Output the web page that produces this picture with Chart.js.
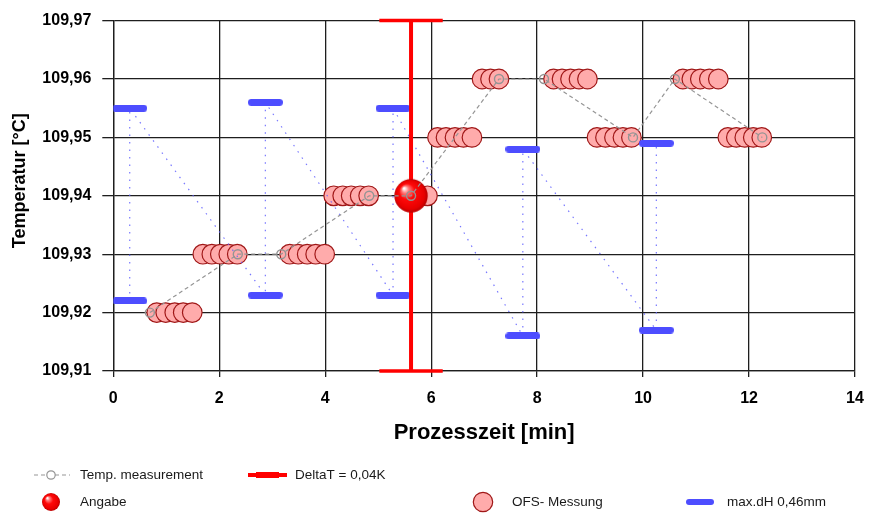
<!DOCTYPE html>
<html>
<head>
<meta charset="utf-8">
<script src="https://cdn.jsdelivr.net/npm/chart.js@4.4.1/dist/chart.umd.min.js"></script>
<style>
  html, body { margin: 0; padding: 0; background: #ffffff; }
  canvas { display: block; }
</style>
</head>
<body>
<canvas id="chart" width="883" height="526"></canvas>
<script>
// Axis ticks
const xTicks = [0, 2, 4, 6, 8, 10, 12, 14];
const yTicks = [109.91, 109.92, 109.93, 109.94, 109.95, 109.96, 109.97];

// Temp. measurement
const tempX = [0.69, 2.35, 3.17, 4.83, 5.62, 7.28, 8.13, 9.81, 10.60, 12.25];
const tempY = [109.92, 109.93, 109.93, 109.94, 109.94, 109.96, 109.96, 109.95, 109.96, 109.95];

// OFS- Messung
const ofsX = [
  0.82, 0.99, 1.16, 1.32, 1.49,
  1.69, 1.86, 2.02, 2.18, 2.34,
  3.33, 3.49, 3.66, 3.82, 3.99,
  4.16, 4.33, 4.49, 4.66, 4.82,
  5.60, 5.77, 5.93,
  6.12, 6.28, 6.45, 6.61, 6.77,
  6.96, 7.12, 7.28,
  8.31, 8.47, 8.63, 8.79, 8.95,
  9.13, 9.29, 9.46, 9.62, 9.78,
  10.75, 10.92, 11.08, 11.25, 11.42,
  11.60, 11.76, 11.92, 12.08, 12.24
];
const ofsY = [
  109.92, 109.92, 109.92, 109.92, 109.92,
  109.93, 109.93, 109.93, 109.93, 109.93,
  109.93, 109.93, 109.93, 109.93, 109.93,
  109.94, 109.94, 109.94, 109.94, 109.94,
  109.94, 109.94, 109.94,
  109.95, 109.95, 109.95, 109.95, 109.95,
  109.96, 109.96, 109.96,
  109.96, 109.96, 109.96, 109.96, 109.96,
  109.95, 109.95, 109.95, 109.95, 109.95,
  109.96, 109.96, 109.96, 109.96, 109.96,
  109.95, 109.95, 109.95, 109.95, 109.95
];

// max.dH 0,46mm
const dhX = [0.31, 0.31, 2.87, 2.87, 5.28, 5.28, 7.73, 7.73, 10.25, 10.25];
const dhY = [109.922, 109.955, 109.923, 109.956, 109.923, 109.955, 109.916, 109.948, 109.917, 109.949];

// Angabe
const angabeX = [5.62];
const angabeY = [109.94];

// DeltaT = 0,04K
const deltaX = [5.62, 5.62];
const deltaY = [109.91, 109.97];

const FONT = '"Liberation Sans", Arial, Helvetica, sans-serif';

function toPoints(xs, ys) {
  return xs.map((x, i) => ({ x: x, y: ys[i] }));
}

// Shaded red sphere marker
function makeBall(r) {
  const s = Math.ceil(r * 2 + 2);
  const c = document.createElement('canvas');
  c.width = s; c.height = s;
  const g = c.getContext('2d');
  const cx = s / 2, cy = s / 2;
  const grad = g.createRadialGradient(cx - r * 0.42, cy - r * 0.45, r * 0.04, cx, cy, r);
  grad.addColorStop(0, '#ffffff');
  grad.addColorStop(0.18, '#ff7a7a');
  grad.addColorStop(0.45, '#ff0a0a');
  grad.addColorStop(0.85, '#e80000');
  grad.addColorStop(1, '#b80000');
  g.fillStyle = grad;
  g.beginPath();
  g.arc(cx, cy, r, 0, Math.PI * 2);
  g.fill();
  return c;
}

// Rounded horizontal bar marker
function makeBar(w, h, color) {
  const c = document.createElement('canvas');
  c.width = w; c.height = h;
  const g = c.getContext('2d');
  const r = h / 2;
  g.fillStyle = color;
  g.beginPath();
  g.moveTo(r, 0);
  g.lineTo(w - r, 0);
  g.arc(w - r, r, r, -Math.PI / 2, Math.PI / 2);
  g.lineTo(r, h);
  g.arc(r, r, r, Math.PI / 2, Math.PI * 1.5);
  g.closePath();
  g.fill();
  return c;
}

const ballImg = makeBall(16.7);
const ballSmall = makeBall(9);
const barImg = makeBar(35, 7, '#4d4dff');
const barSmall = makeBar(28, 6, '#4d4dff');

const COLORS = {
  temp: '#959595',
  red: '#ff0000',
  blueLine: 'rgba(95, 95, 255, 0.85)',
  ofsFill: '#ffabab',
  ofsBorder: '#a01818',
  grid: '#1e1e1e'
};

// Legend laid out in two rows below the axis title
const legendPlugin = {
  id: 'bottomLegend',
  afterDraw(chart) {
    const g = chart.ctx;
    const ds = chart.data.datasets;
    const byLabel = {};
    ds.forEach(d => { byLabel[d.key] = d.label; });
    const row1 = 475, row2 = 502;
    g.save();
    g.font = '13.5px ' + FONT;
    g.fillStyle = '#1a1a1a';
    g.textAlign = 'left';
    g.textBaseline = 'middle';

    // Temp. measurement
    g.save();
    g.strokeStyle = COLORS.temp;
    g.lineWidth = 1.2;
    g.setLineDash([4, 3]);
    g.beginPath(); g.moveTo(34, row1); g.lineTo(70, row1); g.stroke();
    g.setLineDash([]);
    g.fillStyle = '#ffffff';
    g.beginPath(); g.arc(51, row1, 4.2, 0, Math.PI * 2); g.fill(); g.stroke();
    g.restore();
    g.fillText(byLabel.temp, 80, row1);

    // DeltaT
    g.save();
    g.strokeStyle = COLORS.red;
    g.lineWidth = 4;
    g.beginPath(); g.moveTo(248, row1); g.lineTo(287, row1); g.stroke();
    g.lineWidth = 6;
    g.beginPath(); g.moveTo(256, row1); g.lineTo(279, row1); g.stroke();
    g.restore();
    g.fillText(byLabel.delta, 295, row1);

    // Angabe
    g.drawImage(ballSmall, 51 - ballSmall.width / 2, row2 - ballSmall.height / 2);
    g.fillText(byLabel.angabe, 80, row2);

    // OFS- Messung
    g.save();
    g.fillStyle = COLORS.ofsFill;
    g.strokeStyle = COLORS.ofsBorder;
    g.lineWidth = 1.2;
    g.beginPath(); g.arc(483, row2, 9.7, 0, Math.PI * 2); g.fill(); g.stroke();
    g.restore();
    g.fillText(byLabel.ofs, 512, row2);

    // max.dH
    g.drawImage(barSmall, 686, row2 - barSmall.height / 2);
    g.fillText(byLabel.dh, 727, row2);

    g.restore();
  }
};

new Chart(document.getElementById('chart'), {
  type: 'scatter',
  data: {
    datasets: [
      {
        key: 'temp',
        label: 'Temp. measurement',
        data: toPoints(tempX, tempY),
        showLine: true,
        borderColor: COLORS.temp,
        borderWidth: 1.2,
        borderDash: [4, 3],
        pointStyle: 'circle',
        pointRadius: 4.5,
        pointBorderColor: '#949494',
        pointBackgroundColor: 'rgba(0,0,0,0)',
        pointBorderWidth: 1.4,
        order: 0
      },
      {
        key: 'angabe',
        label: 'Angabe',
        data: toPoints(angabeX, angabeY),
        pointStyle: ballImg,
        pointRadius: 16,
        order: 1
      },
      {
        key: 'delta',
        label: 'DeltaT = 0,04K',
        data: toPoints(deltaX, deltaY),
        showLine: true,
        borderColor: COLORS.red,
        borderWidth: 4,
        pointStyle: 'line',
        pointRadius: 31.7,
        pointBorderColor: COLORS.red,
        pointBorderWidth: 3.5,
        clip: false,
        order: 2
      },
      {
        key: 'dh',
        label: 'max.dH 0,46mm',
        data: toPoints(dhX, dhY),
        showLine: true,
        borderColor: COLORS.blueLine,
        borderWidth: 1.2,
        borderDash: [1.5, 6],
        pointStyle: barImg,
        pointRadius: 10,
        order: 3
      },
      {
        key: 'ofs',
        label: 'OFS- Messung',
        data: toPoints(ofsX, ofsY),
        pointStyle: 'circle',
        pointRadius: 9.8,
        pointBackgroundColor: COLORS.ofsFill,
        pointBorderColor: COLORS.ofsBorder,
        pointBorderWidth: 1.2,
        order: 4
      }
    ]
  },
  options: {
    responsive: false,
    animation: false,
    events: [],
    layout: { autoPadding: false, padding: { top: 17.7, right: 28, bottom: 79.8, left: 0 } },
    plugins: {
      legend: { display: false },
      tooltip: { enabled: false }
    },
    scales: {
      x: {
        type: 'linear',
        min: 0,
        max: 14,
        afterBuildTicks: s => { s.ticks = xTicks.map(v => ({ value: v })); },
        afterFit: s => { s.height = 75.2; },
        grid: { color: COLORS.grid, lineWidth: 1.3, tickLength: 6, tickColor: COLORS.grid },
        border: { color: COLORS.grid, width: 1.3 },
        ticks: {
          font: { family: FONT, size: 16, weight: 'bold' },
          color: '#000000',
          padding: 12,
          maxRotation: 0
        },
        title: {
          display: true,
          text: 'Prozesszeit [min]',
          font: { family: FONT, size: 22, weight: 'bold' },
          color: '#000000',
          padding: 0
        }
      },
      y: {
        type: 'linear',
        min: 109.91,
        max: 109.97,
        afterBuildTicks: s => { s.ticks = yTicks.map(v => ({ value: v })); },
        afterFit: s => { s.width = 113.3; },
        grid: { color: COLORS.grid, lineWidth: 1.3, tickLength: 11, tickColor: COLORS.grid },
        border: { color: COLORS.grid, width: 1.3 },
        ticks: {
          font: { family: FONT, size: 16, weight: 'bold' },
          color: '#000000',
          padding: 11,
          callback: v => Number(v).toFixed(2).replace('.', ',')
        },
        title: {
          display: true,
          text: '      Temperatur [°C]',
          font: { family: FONT, size: 18, weight: 'bold' },
          color: '#000000',
          padding: { top: 9, bottom: 0 }
        }
      }
    }
  },
  plugins: [legendPlugin]
});
</script>
</body>
</html>
